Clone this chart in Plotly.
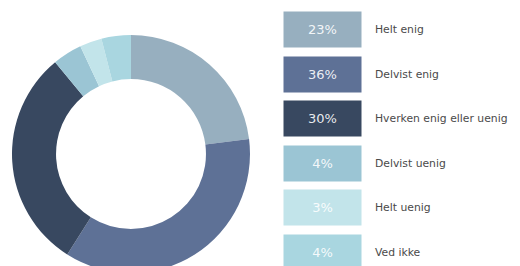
import plotly.graph_objects as go

categories = ["Helt enig", "Delvist enig", "Hverken enig eller uenig", "Delvist uenig", "Helt uenig", "Ved ikke"]
values = [23, 36, 30, 4, 3, 4]
colors = ["#97AFBF", "#5E7196", "#384860", "#9BC5D4", "#C2E4EA", "#A9D6E0"]

W, H = 520, 266
OFF = 8  # page body margin offset

fig = go.Figure()
cx, cy, r = 131 - OFF, 154 - OFF, 119
fig.add_trace(go.Pie(
    labels=categories,
    values=values,
    hole=0.63,
    sort=False,
    direction="clockwise",
    rotation=0,
    marker=dict(colors=colors, line=dict(width=0)),
    textinfo="none",
    hoverinfo="label+percent",
    showlegend=False,
    domain=dict(x=[(cx - r) / W, (cx + r) / W], y=[1 - (cy + r) / H, 1 - (cy - r) / H]),
))

row0 = 29.5 - OFF
step = 44.6
box_cx = 322.5 - OFF
label_x = 373 - OFF
annotations = []
for i, (cat, val, col) in enumerate(zip(categories, values, colors)):
    yc = 1 - (row0 + i * step) / H
    annotations.append(dict(
        x=box_cx / W, y=yc, xref="paper", yref="paper",
        xanchor="center", yanchor="middle",
        text=f"{val}%", showarrow=False,
        width=77, height=35, bgcolor=col, borderpad=0,
        font=dict(family="DejaVu Sans", size=13, color="rgba(255,255,255,0.9)"),
    ))
    annotations.append(dict(
        x=label_x / W, y=yc, xref="paper", yref="paper",
        xanchor="left", yanchor="middle",
        text=cat, showarrow=False,
        font=dict(family="DejaVu Sans", size=10.8, color="#4a4a4a"),
    ))

fig.update_layout(
    width=W, height=H,
    margin=dict(l=0, r=0, t=0, b=0),
    paper_bgcolor="white",
    plot_bgcolor="white",
    annotations=annotations,
)

fig.write_html("out.html")
